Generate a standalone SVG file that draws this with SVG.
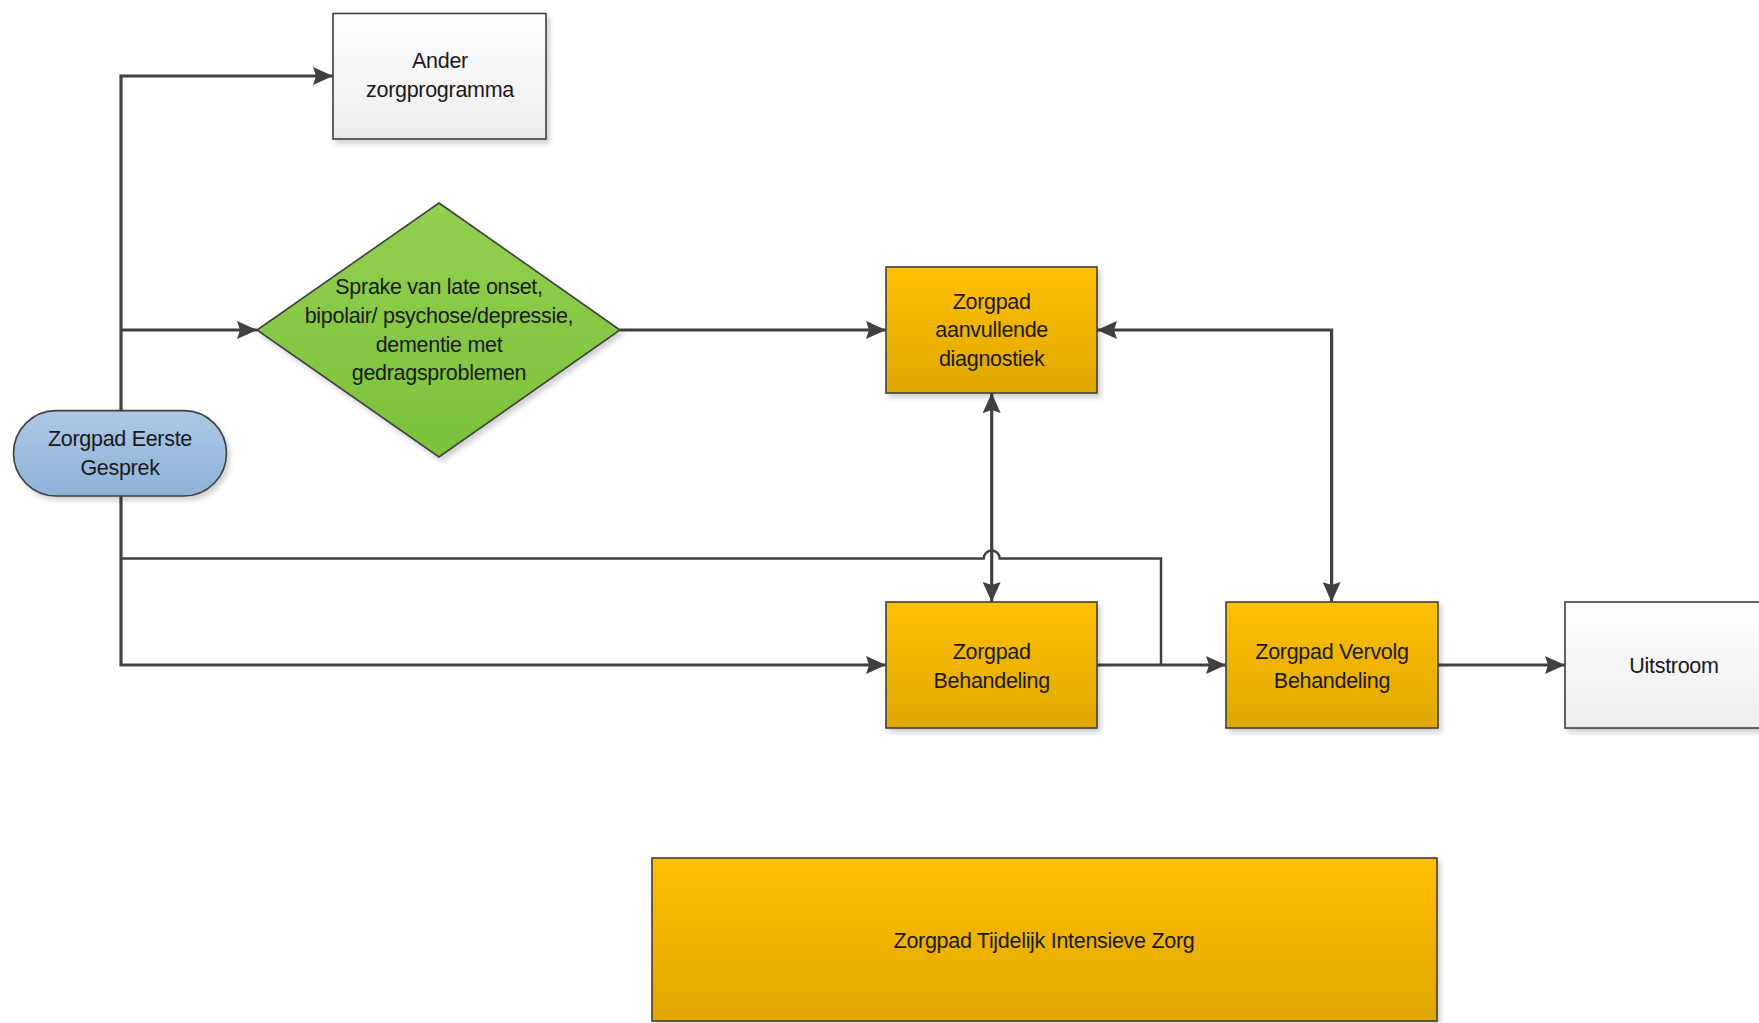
<svg xmlns="http://www.w3.org/2000/svg" width="1759" height="1023" viewBox="0 0 1759 1023">
<defs>
<linearGradient id="gOrange" x1="0" y1="0" x2="0" y2="1"><stop offset="0" stop-color="#FFC000"/><stop offset="1" stop-color="#DFA700"/></linearGradient>
<linearGradient id="gGreen" x1="0" y1="0" x2="0" y2="1"><stop offset="0" stop-color="#92D050"/><stop offset="1" stop-color="#7BC13A"/></linearGradient>
<linearGradient id="gBlue" x1="0" y1="0" x2="0" y2="1"><stop offset="0" stop-color="#ADC8E4"/><stop offset="1" stop-color="#8DB1D8"/></linearGradient>
<linearGradient id="gWhite" x1="0" y1="0" x2="0" y2="1"><stop offset="0" stop-color="#FFFFFF"/><stop offset="1" stop-color="#ECECEC"/></linearGradient>
<filter id="sh" x="-10%" y="-10%" width="130%" height="130%"><feDropShadow dx="3" dy="4" stdDeviation="2.5" flood-color="#000" flood-opacity="0.18"/></filter>
<marker id="arr" viewBox="0 0 20 18" refX="20" refY="9" markerWidth="20" markerHeight="18" markerUnits="userSpaceOnUse" orient="auto-start-reverse"><path d="M0,0 L20,9 L0,18 L3,9 Z" fill="#404040"/></marker>
<style>
.node{stroke:#404040;stroke-width:1.6;filter:url(#sh)}
.t{font-family:"Liberation Sans",Arial,sans-serif;font-size:21.5px;fill:#1a1a1a;text-anchor:middle;letter-spacing:-0.3px}
.c{fill:none;stroke:#404040;stroke-width:3.2}
.c2{fill:none;stroke:#404040;stroke-width:2.5}
</style>
</defs>
<rect width="1759" height="1023" fill="#FFFFFF"/>
<g id="connectors">
<path class="c" d="M121,411 V76 H333" marker-end="url(#arr)"/>
<path class="c" d="M121,330 H257" marker-end="url(#arr)"/>
<path class="c" d="M620,330 H886" marker-end="url(#arr)"/>
<path class="c" d="M121,496 V665 H886" marker-end="url(#arr)"/>
<path class="c2" d="M121,558.6 H983.7 A8,8 0 0 1 999.7,558.6 H1161 V665"/>
<path class="c" d="M991.7,393 V602" marker-start="url(#arr)" marker-end="url(#arr)"/>
<path class="c" d="M1097,330 H1331.6 V602" marker-start="url(#arr)" marker-end="url(#arr)"/>
<path class="c" d="M1097,665 H1226" marker-end="url(#arr)"/>
<path class="c" d="M1438,665 H1565" marker-end="url(#arr)"/>
</g>
<g id="ander">
<rect class="node" x="333" y="13.5" width="213" height="125.5" fill="url(#gWhite)"/>
<text class="t" x="440" y="68">Ander</text>
<text class="t" x="440" y="97">zorgprogramma</text>
</g>
<g id="beslissing">
<polygon class="node" points="439,203 620,330 439,457 257,330" fill="url(#gGreen)"/>
<text class="t" x="439" y="294">Sprake van late onset,</text>
<text class="t" x="439" y="323">bipolair/ psychose/depressie,</text>
<text class="t" x="439" y="352">dementie met</text>
<text class="t" x="439" y="380">gedragsproblemen</text>
</g>
<g id="eerste-gesprek">
<rect class="node" x="13.5" y="410.6" width="213" height="85.4" rx="42.7" ry="42.7" fill="url(#gBlue)"/>
<text class="t" x="120" y="446">Zorgpad Eerste</text>
<text class="t" x="120" y="475">Gesprek</text>
</g>
<g id="aanvullende-diagnostiek">
<rect class="node" x="886" y="267" width="211" height="126" fill="url(#gOrange)"/>
<text class="t" x="991.7" y="309">Zorgpad</text>
<text class="t" x="991.7" y="337">aanvullende</text>
<text class="t" x="991.7" y="366">diagnostiek</text>
</g>
<g id="behandeling">
<rect class="node" x="886" y="602" width="211" height="126" fill="url(#gOrange)"/>
<text class="t" x="991.7" y="659">Zorgpad</text>
<text class="t" x="991.7" y="688">Behandeling</text>
</g>
<g id="vervolg-behandeling">
<rect class="node" x="1226" y="602" width="212" height="126" fill="url(#gOrange)"/>
<text class="t" x="1332" y="659">Zorgpad Vervolg</text>
<text class="t" x="1332" y="688">Behandeling</text>
</g>
<g id="uitstroom">
<rect class="node" x="1565" y="602" width="212" height="126" fill="url(#gWhite)"/>
<text class="t" x="1674" y="673">Uitstroom</text>
</g>
<g id="tijdelijk-intensieve-zorg">
<rect class="node" x="652" y="858" width="785" height="163" fill="url(#gOrange)"/>
<text class="t" x="1044" y="948">Zorgpad Tijdelijk Intensieve Zorg</text>
</g>
</svg>
